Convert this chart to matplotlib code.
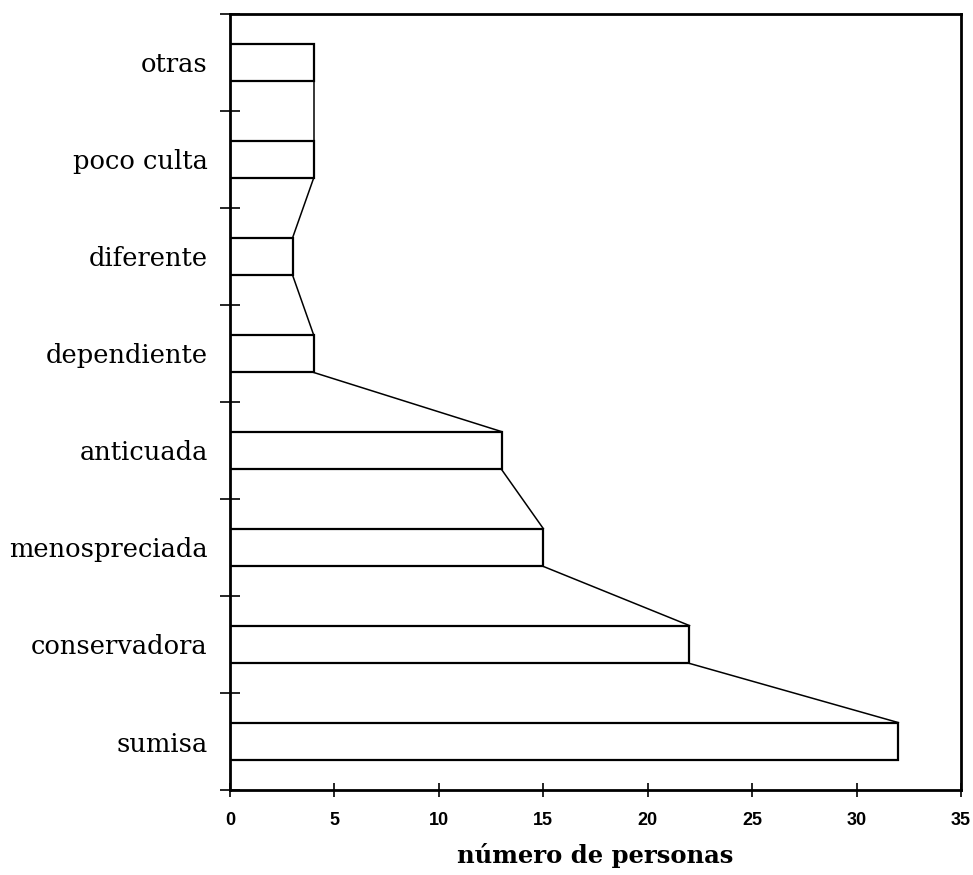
import matplotlib.pyplot as plt
import numpy as np

# categories from bottom to top
categorias = ["sumisa", "conservadora", "menospreciada", "anticuada",
              "dependiente", "diferente", "poco culta", "otras"]
personas = [32, 22, 15, 13, 4, 3, 4, 4]
xticks = [0, 5, 10, 15, 20, 25, 30, 35]

fig = plt.figure(figsize=(9.73, 8.75), dpi=100)
ax = fig.add_axes([230/973, 1 - 790/875, (961-230)/973, (790-14)/875])

y = np.arange(len(categorias))
h = 0.39
ax.barh(y, personas, height=h, color="white", edgecolor="black", linewidth=1.6)

# lines joining the ends of consecutive bars
for i in range(len(personas) - 1):
    ax.plot([personas[i], personas[i+1]], [y[i] + h/2, y[i+1] - h/2],
            color="black", linewidth=1.1)

ax.set_xlim(0, 35)
ax.set_ylim(-0.5, len(categorias) - 0.5)

ax.set_xticks(xticks)
ax.set_xticklabels([str(t) for t in xticks], fontfamily="Liberation Sans",
                   fontweight="bold", fontsize=13)
ax.tick_params(axis="x", direction="inout", length=10, width=1.2, pad=11)

# category boundaries carry the ticks, labels sit in between
ax.set_yticks(np.arange(len(categorias) + 1) - 0.5)
ax.set_yticklabels([])
ax.set_yticks(y, minor=True)
ax.set_yticklabels(categorias, minor=True, fontfamily="DejaVu Serif", fontsize=18.5)
ax.tick_params(axis="y", which="major", direction="inout", length=14, width=1.2)
ax.tick_params(axis="y", which="minor", length=0, pad=16)

for s in ax.spines.values():
    s.set_linewidth(2)

ax.set_xlabel("número de personas", fontfamily="DejaVu Serif", fontweight="heavy",
              fontsize=17.5)
ax.xaxis.set_label_coords(0.5, -0.068)

fig.savefig("out.png", dpi=100)
